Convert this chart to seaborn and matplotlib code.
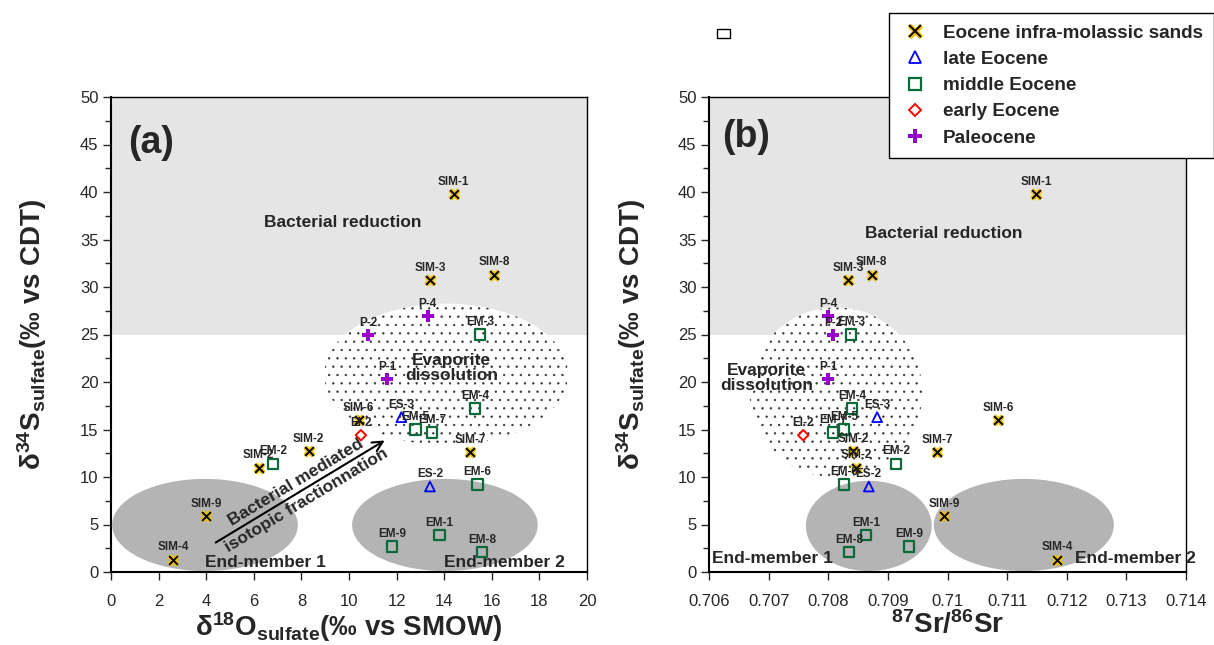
import numpy as np
import pandas as pd
import matplotlib
matplotlib.use("Agg")
import matplotlib.pyplot as plt
import seaborn as sns
from matplotlib.patches import Ellipse, Rectangle
from matplotlib.lines import Line2D
from matplotlib.ticker import MultipleLocator, FuncFormatter
from matplotlib.legend_handler import HandlerTuple

# ---------------- data ----------------
names = ['SIM-1', 'SIM-2', 'SIM-2', 'SIM-3', 'SIM-4', 'SIM-6', 'SIM-7', 'SIM-8', 'SIM-9',
         'ES-2', 'ES-3',
         'EM-1', 'EM-2', 'EM-3', 'EM-4', 'EM-5', 'EM-6', 'EM-7', 'EM-8', 'EM-9',
         'EI-2',
         'P-1', 'P-2', 'P-4']
groups = ['Eocene infra-molassic sands'] * 9 + ['late Eocene'] * 2 + ['middle Eocene'] * 9 + \
         ['early Eocene'] + ['Paleocene'] * 3
d34S = [39.8, 12.7, 11.0, 30.7, 1.3, 16.0, 12.6, 31.3, 5.9,
        9.0, 16.3,
        3.9, 11.4, 25.0, 17.2, 15.0, 9.2, 14.7, 2.1, 2.7,
        14.4,
        20.3, 24.9, 26.9]
d18O = [14.4, 8.3, 6.2, 13.4, 2.6, 10.4, 15.1, 16.1, 4.0,
        13.4, 12.2,
        13.8, 6.8, 15.5, 15.3, 12.8, 15.4, 13.5, 15.6, 11.8,
        10.5,
        11.6, 10.8, 13.3]
sr = [0.71149, 0.70842, 0.70847, 0.70833, 0.71184, 0.71085, 0.70983, 0.70873, 0.70994,
      0.70868, 0.70882,
      0.70863, 0.70914, 0.70838, 0.70840, 0.70827, 0.70826, 0.70808, 0.70835, 0.70936,
      0.70758,
      0.70800, 0.70808, 0.70800]
group_order = ['Eocene infra-molassic sands', 'late Eocene', 'middle Eocene', 'early Eocene', 'Paleocene']
x_ticks_a = [0, 2, 4, 6, 8, 10, 12, 14, 16, 18, 20]
x_ticks_b = [0.706, 0.707, 0.708, 0.709, 0.710, 0.711, 0.712, 0.713, 0.714]
y_ticks = [0, 5, 10, 15, 20, 25, 30, 35, 40, 45, 50]

df = pd.DataFrame({'name': names, 'group': groups, 'd34S': d34S, 'd18O': d18O, 'sr': sr})

# ---------------- style ----------------
sns.set_style("ticks")
plt.rcParams['font.family'] = ['Liberation Sans', 'DejaVu Sans']
plt.rcParams['mathtext.fontset'] = 'custom'
plt.rcParams['mathtext.rm'] = 'Liberation Sans:bold'
plt.rcParams['mathtext.bf'] = 'Liberation Sans:bold'
plt.rcParams['mathtext.it'] = 'Liberation Sans:bold'
plt.rcParams['mathtext.default'] = 'bf'
plt.rcParams['hatch.linewidth'] = 0.45

YEL = '#f2c200'
GRN = '#0b6a3a'
BLU = '#0000ff'
RED = '#ff0000'
PUR = '#9900cc'
LGRAY = '#e5e5e5'
MGRAY = '#b4b4b4'

fig = plt.figure(figsize=(12.14, 6.45), dpi=100)
axA = fig.add_axes([111 / 1214, 1 - 572 / 645, 476 / 1214, 475 / 645])
axB = fig.add_axes([709 / 1214, 1 - 572 / 645, 477 / 1214, 475 / 645])


def stipple_ellipse(ax, center, w, h):
    ax.add_patch(Ellipse(center, w, h, facecolor='white', edgecolor='none', zorder=1))
    ax.add_patch(Ellipse(center, w, h, facecolor='none', edgecolor='#333333', linewidth=0,
                         hatch='..', zorder=1.1))


def draw_points(ax, xcol):
    sub = df[df.group == group_order[0]]
    sns.scatterplot(data=sub, x=xcol, y='d34S', marker='x', s=40, color=YEL, linewidth=3.6, ax=ax, zorder=5)
    sns.scatterplot(data=sub, x=xcol, y='d34S', marker='x', s=40, color='black', linewidth=1.4, ax=ax, zorder=6)
    sub = df[df.group == group_order[1]]
    sns.scatterplot(data=sub, x=xcol, y='d34S', marker='^', s=50, color=BLU, facecolor='none',
                    edgecolor=BLU, linewidth=1.3, ax=ax, zorder=5)
    sub = df[df.group == group_order[2]]
    sns.scatterplot(data=sub, x=xcol, y='d34S', marker='s', s=55, color=GRN, facecolor='none',
                    edgecolor=GRN, linewidth=1.6, ax=ax, zorder=5)
    sub = df[df.group == group_order[3]]
    sns.scatterplot(data=sub, x=xcol, y='d34S', marker='D', s=28, color=RED, facecolor='none',
                    edgecolor=RED, linewidth=1.4, ax=ax, zorder=5)
    sub = df[df.group == group_order[4]]
    sns.scatterplot(data=sub, x=xcol, y='d34S', marker='P', s=75, color=PUR, linewidth=0, ax=ax, zorder=5)
    for _, r in df.iterrows():
        ax.annotate(r['name'], (r[xcol], r['d34S']), xytext=(0, 4.5), textcoords='offset points',
                    ha='center', va='bottom', fontsize=8.5, fontweight='bold', zorder=7)


def style_axes(ax, xlim, xticks):
    ax.set_xlim(*xlim)
    ax.set_ylim(0, 50)
    ax.set_xticks(xticks)
    ax.set_yticks(y_ticks)
    ax.yaxis.set_minor_locator(MultipleLocator(2.5))
    ax.tick_params(axis='both', which='major', direction='out', length=6, width=1, labelsize=12, pad=10)
    ax.tick_params(axis='y', which='major', pad=3)
    ax.tick_params(axis='y', which='minor', direction='out', length=4, width=1)
    for sp in ax.spines.values():
        sp.set_visible(True)
        sp.set_linewidth(1.0)
        sp.set_color('black')
    ax.spines['left'].set_linewidth(1.5)
    ax.spines['bottom'].set_linewidth(1.5)
    ax.set_ylabel(r'$\delta^{34}$S$_{sulfate}$(‰ vs CDT)', fontsize=20, fontweight='bold')
    ax.yaxis.set_label_coords(-0.13, 0.5)


# ---------------- panel (a) ----------------
ax = axA
ax.add_patch(Rectangle((0, 25), 20, 25, facecolor=LGRAY, edgecolor='none', zorder=0))
stipple_ellipse(ax, (14.08, 20.8), 10.25, 14.9)
ax.add_patch(Ellipse((3.95, 4.95), 7.8, 9.7, facecolor=MGRAY, edgecolor='none', zorder=1))
ax.add_patch(Ellipse((14.03, 4.95), 7.8, 9.7, facecolor=MGRAY, edgecolor='none', zorder=1))
ax.text(9.75, 36.8, 'Bacterial reduction', ha='center', va='center', fontsize=12.5, fontweight='bold', zorder=3)
ax.text(14.3, 21.5, 'Evaporite\ndissolution', ha='center', va='center', fontsize=12.5, fontweight='bold',
        linespacing=1.0, zorder=3)
ax.text(6.5, 1.0, 'End-member 1', ha='center', va='center', fontsize=12.5, fontweight='bold', zorder=3)
ax.text(16.55, 1.0, 'End-member 2', ha='center', va='center', fontsize=12.5, fontweight='bold', zorder=3)
ax.annotate('', xy=(11.6, 14.0), xytext=(4.3, 2.95),
            arrowprops=dict(arrowstyle='->', color='black', lw=1.5, mutation_scale=18), zorder=3)
ax.text(8.0, 8.5, 'Bacterial mediated\nisotopic fractionnation', ha='center', va='center',
        rotation=31, rotation_mode='anchor', fontsize=12.5, fontweight='bold', linespacing=1.45, zorder=3)
draw_points(ax, 'd18O')
style_axes(ax, (0, 20), x_ticks_a)
ax.set_xlabel(r'$\delta^{18}$O$_{sulfate}$(‰ vs SMOW)', fontsize=20, fontweight='bold')
ax.xaxis.set_label_coords(0.5, -0.08)
ax.text(0.084, 0.903, '(a)', transform=ax.transAxes, ha='center', va='center', fontsize=27,
        fontweight='bold', zorder=8)

# ---------------- panel (b) ----------------
ax = axB
ax.add_patch(Rectangle((0.706, 25), 0.008, 25, facecolor=LGRAY, edgecolor='none', zorder=0))
stipple_ellipse(ax, (0.70813, 18.9), 0.00290, 17.9)
ax.add_patch(Ellipse((0.70868, 4.85), 0.00211, 9.5, facecolor=MGRAY, edgecolor='none', zorder=1))
ax.add_patch(Ellipse((0.71128, 4.95), 0.00302, 9.7, facecolor=MGRAY, edgecolor='none', zorder=1))
ax.text(0.70993, 35.6, 'Bacterial reduction', ha='center', va='center', fontsize=12.5, fontweight='bold', zorder=3)
ax.text(0.70697, 20.4, 'Evaporite\ndissolution', ha='center', va='center', fontsize=12.5, fontweight='bold',
        linespacing=1.0, zorder=3)
ax.text(0.70707, 1.45, 'End-member 1', ha='center', va='center', fontsize=12.5, fontweight='bold', zorder=3)
ax.text(0.71316, 1.45, 'End-member 2', ha='center', va='center', fontsize=12.5, fontweight='bold', zorder=3,
        clip_on=False)
draw_points(ax, 'sr')
style_axes(ax, (0.706, 0.714), x_ticks_b)
ax.xaxis.set_major_formatter(FuncFormatter(lambda v, p: '%g' % round(v, 3)))
ax.set_xlabel(r'$^{87}$Sr/$^{86}$Sr', fontsize=20, fontweight='bold')
ax.xaxis.set_label_coords(0.5, -0.08)
ax.yaxis.set_label_coords(-0.128, 0.5)
ax.text(0.078, 0.915, '(b)', transform=ax.transAxes, ha='center', va='center', fontsize=27,
        fontweight='bold', zorder=8)

# ---------------- legend ----------------
h_sim = (Line2D([], [], marker='x', ls='none', color=YEL, markersize=8, markeredgewidth=3.6),
         Line2D([], [], marker='x', ls='none', color='black', markersize=8, markeredgewidth=1.4))
h_es = Line2D([], [], marker='^', ls='none', markerfacecolor='none', markeredgecolor=BLU, markersize=8,
              markeredgewidth=1.3)
h_em = Line2D([], [], marker='s', ls='none', markerfacecolor='none', markeredgecolor=GRN, markersize=8,
              markeredgewidth=1.6)
h_ei = Line2D([], [], marker='D', ls='none', markerfacecolor='none', markeredgecolor=RED, markersize=6,
              markeredgewidth=1.4)
h_p = Line2D([], [], marker='P', ls='none', color=PUR, markersize=10, markeredgewidth=0)
leg = fig.legend([h_sim, h_es, h_em, h_ei, h_p], group_order, loc='upper left',
                 bbox_to_anchor=(889 / 1214, 1 - 13 / 645), bbox_transform=fig.transFigure,
                 borderaxespad=0, frameon=True, fancybox=False, edgecolor='black', framealpha=1,
                 prop={'weight': 'bold', 'size': 13.6}, handlelength=1.5, handletextpad=0.75,
                 labelspacing=0.48, borderpad=0.6, handler_map={tuple: HandlerTuple(ndivide=1, pad=0)})
leg.get_frame().set_linewidth(1.0)

fig.patches.append(Rectangle((717 / 1214, 1 - 38 / 645), 13 / 1214, 9 / 645, transform=fig.transFigure,
                             facecolor='white', edgecolor='black', linewidth=1.0, figure=fig))

fig.savefig('out.png', dpi=100)
